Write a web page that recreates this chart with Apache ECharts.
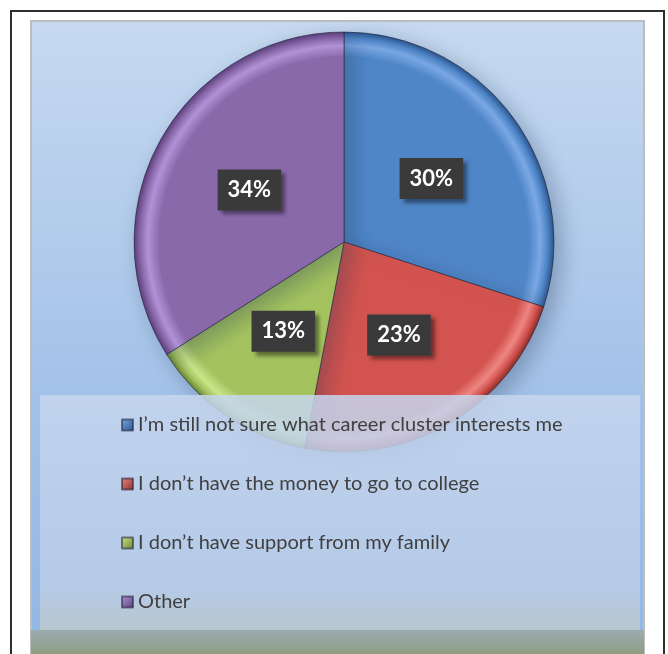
<!DOCTYPE html>
<html>
<head>
<meta charset="utf-8">
<script src="https://cdn.jsdelivr.net/npm/echarts@6/dist/echarts.min.js"></script>
<style>html,body{margin:0;padding:0;background:#fff;}#c{width:668px;height:654px;}</style>
</head>
<body>
<div id="c"></div>
<script>
var categories = ["I\u2019m still not sure what career cluster interests me", "I don\u2019t have the money to go to college", "I don\u2019t have support from my family", "Other"];
var values = [30, 23, 13, 34];
var colors = ["#4f86c8", "#d2534f", "#a4c35f", "#8a69ab"];
var lightColors = ["#7aa8e4", "#ee8682", "#cbe68a", "#b393d8"];
var darkColors = ["#2c558c", "#8c2d2a", "#6a8530", "#5a3f7a"];

var CX = 344, CY = 242, R = 210;
var chart = echarts.init(document.getElementById('c'), null, {renderer: 'canvas'});

function sliceColor(i) {
  return new echarts.graphic.RadialGradient(CX, CY, R, [
    {offset: 0, color: colors[i]},
    {offset: 0.88, color: colors[i]},
    {offset: 0.935, color: lightColors[i]},
    {offset: 0.97, color: colors[i]},
    {offset: 1, color: darkColors[i]}
  ], true);
}

var pieData = categories.map(function (c, i) {
  return {name: c, value: values[i], itemStyle: {color: sliceColor(i)}};
});

var option = {
  animation: false,
  backgroundColor: '#ffffff',
  graphic: {
    elements: [
      {type: 'rect', z: -20, shape: {x: 11, y: 11, width: 653, height: 660},
        style: {fill: '#ffffff', stroke: '#2e2e2e', lineWidth: 2}},
      {type: 'rect', z: -19, shape: {x: 31, y: 21, width: 613, height: 640},
        style: {fill: new echarts.graphic.LinearGradient(0, 0, 0, 1, [
          {offset: 0, color: '#c6d9f0'},
          {offset: 0.6, color: '#a2c1e8'},
          {offset: 1, color: '#92b6e4'}
        ]), stroke: '#bdbdbd', lineWidth: 2}},
      {type: 'rect', z: 50, shape: {x: 40, y: 395, width: 600, height: 235},
        style: {fill: new echarts.graphic.LinearGradient(0, 0, 0, 1, [
          {offset: 0, color: 'rgba(198,214,238,0.85)'},
          {offset: 0.8, color: 'rgba(185,205,232,0.87)'},
          {offset: 1, color: 'rgba(188,200,205,0.9)'}
        ])}},
      {type: 'rect', z: 51, shape: {x: 31, y: 630, width: 613, height: 30},
        style: {fill: new echarts.graphic.LinearGradient(0, 0, 0, 1, [
          {offset: 0, color: '#9aabb0'},
          {offset: 1, color: '#8d9976'}
        ])}}
    ]
  },
  legend: {
    orient: 'vertical',
    left: 116,
    top: 409,
    z: 60,
    itemWidth: 11,
    itemHeight: 11,
    itemGap: 37,
    icon: 'rect',
    textStyle: {fontFamily: 'Lato', fontSize: 20, color: '#404040', lineHeight: 22},
    data: categories.map(function (c, i) {
      return {name: c, itemStyle: {color: new echarts.graphic.LinearGradient(0, 0, 1, 1, [
        {offset: 0, color: lightColors[i]}, {offset: 1, color: darkColors[i]}])}};
    })
  },
  series: [{
    type: 'pie',
    z: 2,
    center: [CX, CY],
    radius: [0, R],
    startAngle: 90,
    clockwise: true,
    silent: true,
    itemStyle: {
      borderColor: 'rgba(30,30,50,0.55)',
      borderWidth: 1,
      shadowBlur: 22,
      shadowColor: 'rgba(40,60,90,0.35)',
      shadowOffsetX: 7,
      shadowOffsetY: 7
    },
    label: {
      show: true,
      position: 'inside',
      formatter: function (p) { return p.value + '%'; },
      color: '#ffffff',
      fontFamily: 'Lato',
      fontWeight: 'bold',
      fontSize: 22,
      backgroundColor: '#3a3a3a',
      padding: [10, 10, 9, 10],
      shadowBlur: 4,
      shadowColor: 'rgba(0,0,0,0.45)',
      shadowOffsetX: 4,
      shadowOffsetY: 4
    },
    labelLine: {show: false},
    data: pieData
  }]
};
chart.setOption(option);
</script>
</body>
</html>
